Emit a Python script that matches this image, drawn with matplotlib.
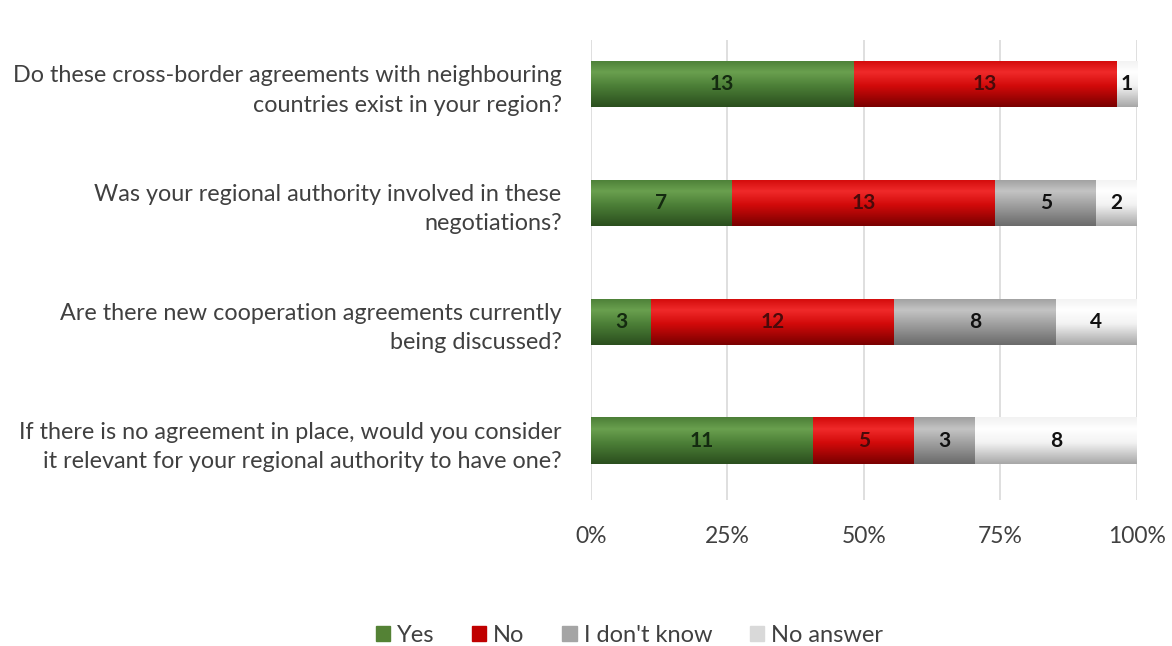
import numpy as np
import matplotlib.pyplot as plt
from matplotlib.colors import LinearSegmentedColormap
from matplotlib.patches import Patch

plt.rcParams['font.family'] = ['Lato', 'DejaVu Sans']

questions = [
    "Do these cross-border agreements with neighbouring\ncountries exist in your region?",
    "Was your regional authority involved in these\nnegotiations?",
    "Are there new cooperation agreements currently\nbeing discussed?",
    "If there is no agreement in place, would you consider\nit relevant for your regional authority to have one?",
]
answers = ["Yes", "No", "I don't know", "No answer"]
yes = [13, 7, 3, 11]
no = [13, 13, 12, 5]
dont_know = [0, 5, 8, 3]
no_answer = [1, 2, 4, 8]
ticks = ["0%", "25%", "50%", "75%", "100%"]

# (dark, mid, light) shades for the rounded look of each series
shades = {
    "Yes": ("#2b4f1e", "#4c7f37", "#6aa04f"),
    "No": ("#7a0000", "#d20a0a", "#f02a2a"),
    "I don't know": ("#6b6b6b", "#a0a0a0", "#c4c4c4"),
    "No answer": ("#a8a8a8", "#f2f2f2", "#ffffff"),
}
legend_colors = {"Yes": "#548235", "No": "#c00000",
                 "I don't know": "#a5a5a5", "No answer": "#d9d9d9"}
label_colors = {"Yes": "#142a10", "No": "#4a0a0a",
                "I don't know": "#111111", "No answer": "#111111"}

counts = np.array([yes, no, dont_know, no_answer], dtype=float)
pct = counts / counts.sum(axis=0) * 100

fig = plt.figure(figsize=(11.72, 6.46), dpi=100)
ax = fig.add_axes([0.504, 0.226, 0.466, 0.712])

bar_h = 0.39
ypos = np.arange(len(questions))
left = np.zeros(len(questions))
for k, name in enumerate(answers):
    dark, mid, light = shades[name]
    cmap = LinearSegmentedColormap.from_list(
        name, [(0, dark), (0.45, mid), (0.75, light), (1, mid)])
    grad = np.linspace(0, 1, 64).reshape(-1, 1)
    bars = ax.barh(ypos, pct[k], left=left, height=bar_h,
                   color=legend_colors[name], zorder=2)
    for b, v, c in zip(bars, pct[k], counts[k]):
        if v == 0:
            continue
        x0, y0 = b.get_x(), b.get_y()
        w, h = b.get_width(), b.get_height()
        im = ax.imshow(grad, cmap=cmap, aspect='auto', origin='upper',
                       extent=(x0, x0 + w, y0, y0 + h), zorder=3,
                       interpolation='bicubic')
        im.set_clip_path(b)
        ax.text(x0 + w / 2, y0 + h / 2, f"{int(c)}", ha='center', va='center',
                fontsize=15, fontweight='bold', color=label_colors[name],
                zorder=4)
    left += pct[k]

ax.set_xlim(0, 100)
ax.set_ylim(3.5, -0.37)
ax.set_xticks([0, 25, 50, 75, 100])
ax.set_xticklabels(ticks, fontsize=16.5, color='#404040')
ax.set_yticks(ypos)
ax.set_yticklabels(questions, fontsize=16.8, color='#404040', ha='right',
                   linespacing=1.5)
ax.tick_params(axis='both', length=0)
ax.tick_params(axis='x', pad=19)
ax.tick_params(axis='y', pad=21)
ax.grid(axis='x', color='#d9d9d9', linewidth=1.2, zorder=0)
ax.set_axisbelow(True)
for s in ax.spines.values():
    s.set_visible(False)

handles = [Patch(color=legend_colors[a], label=a) for a in answers]
fig.legend(handles=handles, loc='center', bbox_to_anchor=(0.537, 0.016),
           ncol=4, frameon=False, fontsize=17, handlelength=0.6,
           handleheight=0.6, handletextpad=0.3, columnspacing=1.6,
           labelcolor='#404040')

fig.savefig("out.png", dpi=100)
